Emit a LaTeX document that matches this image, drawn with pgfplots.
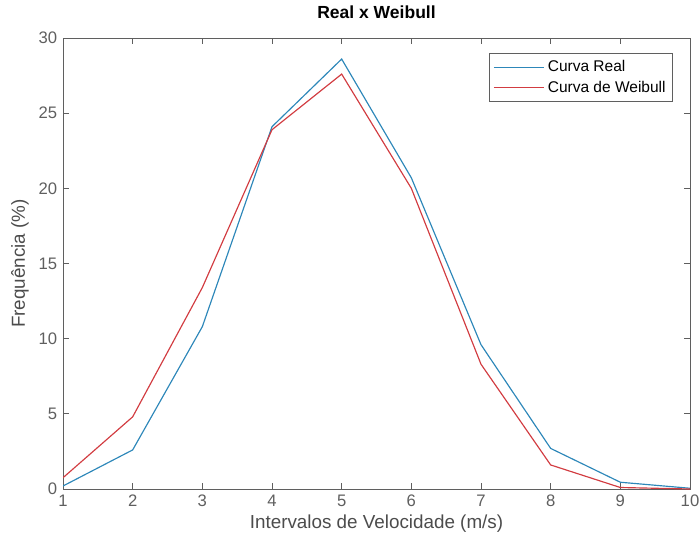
\documentclass[border=0pt]{standalone}
\usepackage{pgfplots}
\pgfplotsset{compat=1.18}
\usepackage{fontspec}
\setmainfont{Liberation Sans}
\definecolor{realblue}{RGB}{45,135,185}
\definecolor{weibred}{RGB}{210,60,65}
\definecolor{axgray}{RGB}{95,95,95}
\begin{document}
\begin{tikzpicture}
\begin{axis}[
  at={(0,0)}, anchor=south west,
  scale only axis, width=376.2pt, height=270.6pt,
  xmin=1, xmax=10, ymin=0, ymax=30,
  xtick={1,...,10}, ytick={0,5,...,30},
  tick align=inside, major tick length=3.6pt,
  axis line style={axgray, line width=0.5pt},
  every tick/.style={axgray, line width=0.5pt},
  tick label style={font=\fontsize{10}{12}\selectfont, text=axgray},
  /pgf/number format/assume math mode=true,
  title={\textbf{Real x Weibull}},
  title style={font=\fontsize{10.5}{12}\selectfont, at={(0.5,1)}, anchor=base, yshift=5.6pt},
  xlabel={Intervalos de Velocidade (m/s)},
  ylabel={Frequência (\%)},
  label style={font=\fontsize{11.3}{13}\selectfont, text=axgray!80!black},
  xlabel style={yshift=2pt},
  ylabel style={yshift=-1pt},
  legend style={at={(0.973,0.967)}, anchor=north east, draw=axgray,
    font=\fontsize{9.3}{11}\selectfont, row sep=0pt, inner sep=2.3pt},
  legend cell align=left,
  legend image code/.code={\draw[#1] (0pt,0pt) -- (30pt,0pt);},
]
\addplot[realblue, line width=0.7pt] coordinates {
  (1,0.2) (2,2.6) (3,10.8) (4,24.1) (5,28.6) (6,20.7) (7,9.6) (8,2.7) (9,0.45) (10,0.05)};
\addlegendentry{Curva Real}
\addplot[weibred, line width=0.7pt] coordinates {
  (1,0.75) (2,4.8) (3,13.4) (4,23.9) (5,27.6) (6,20.0) (7,8.3) (8,1.6) (9,0.1) (10,0.0)};
\addlegendentry{Curva de Weibull}
\end{axis}
\pgfresetboundingbox
\path[use as bounding box] (-37.8pt,-31.8pt) rectangle (382.2pt,293.4pt);
\end{tikzpicture}
\end{document}
